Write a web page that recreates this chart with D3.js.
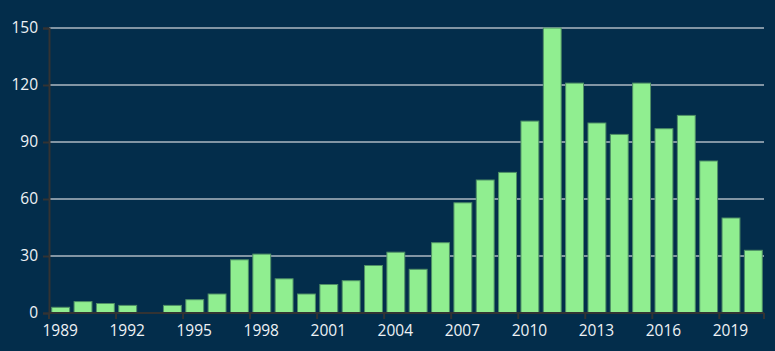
<!DOCTYPE html>
<html>
<head>
<meta charset="utf-8">
<script src="https://cdn.jsdelivr.net/npm/d3@7"></script>
<style>
  html, body { margin: 0; padding: 0; background: #032d4b; }
  svg { display: block; }
  text { font-family: "Open Sans", sans-serif; fill: #eef2f5; }
</style>
</head>
<body>
<div id="chart"></div>
<script>
const years = d3.range(1989, 2021).map(String);
const counts = [3, 6, 5, 4, 0, 4, 7, 10, 28, 31, 18, 10, 15, 17, 25, 32, 23, 37,
  58, 70, 74, 101, 150, 121, 100, 94, 121, 97, 104, 80, 50, 33];
const yTicks = [0, 30, 60, 90, 120, 150];

const width = 775, height = 351;
const margin = { top: 28, right: 11, bottom: 38, left: 49 };

const svg = d3.select("#chart")
  .append("svg")
  .attr("width", width)
  .attr("height", height);

const x = d3.scaleBand()
  .domain(years)
  .range([margin.left, width - margin.right])
  .paddingInner(0.2)
  .paddingOuter(0.1);

const y = d3.scaleLinear()
  .domain([0, 150])
  .range([height - margin.bottom, margin.top]);

// gridlines
svg.append("g")
  .selectAll("line")
  .data(yTicks.filter(d => d > 0))
  .enter()
  .append("line")
  .attr("x1", margin.left)
  .attr("x2", width - margin.right)
  .attr("y1", d => y(d))
  .attr("y2", d => y(d))
  .style("stroke", "#aeb8c2")
  .style("stroke-width", 1.5);

// bars
svg.append("g")
  .selectAll("rect")
  .data(counts)
  .enter()
  .append("rect")
  .attr("x", (d, i) => x(years[i]) + 0.5)
  .attr("y", d => y(d))
  .attr("width", x.bandwidth())
  .attr("height", d => y(0) - y(d))
  .style("fill", "#90ee90")
  .style("stroke", "#4f8f66")
  .style("stroke-width", d => d > 0 ? 1 : 0);

// y axis
const yAxis = svg.append("g")
  .attr("transform", `translate(${margin.left},0)`)
  .call(d3.axisLeft(y).tickValues(yTicks).tickSize(6).tickPadding(5));
yAxis.select(".domain").style("stroke", "#333").style("stroke-width", 2);
yAxis.selectAll(".tick line").style("stroke", "#333").style("stroke-width", 2);
yAxis.selectAll("text").style("font-size", "15.5px").style("fill", "#eef2f5");

// x axis: ticks at band boundaries, labels every third year at band centers
const step = x.step();
const xAxis = svg.append("g")
  .attr("transform", `translate(0,${y(0)})`);
xAxis.append("line")
  .attr("x1", margin.left)
  .attr("x2", width - margin.right)
  .style("stroke", "#333")
  .style("stroke-width", 2);
const shown = years.filter((d, i) => i % 3 === 0);
xAxis.selectAll(".tk")
  .data(shown.concat(["end"]))
  .enter()
  .append("line")
  .attr("x1", d => d === "end" ? width - margin.right : margin.left + years.indexOf(d) * step)
  .attr("x2", d => d === "end" ? width - margin.right : margin.left + years.indexOf(d) * step)
  .attr("y1", 0)
  .attr("y2", 6)
  .style("stroke", "#333")
  .style("stroke-width", 2);
xAxis.selectAll("text")
  .data(shown)
  .enter()
  .append("text")
  .attr("x", d => x(d) + x.bandwidth() / 2)
  .attr("y", 23)
  .attr("text-anchor", "middle")
  .style("font-size", "15.5px")
  .text(d => d);
</script>
</body>
</html>
